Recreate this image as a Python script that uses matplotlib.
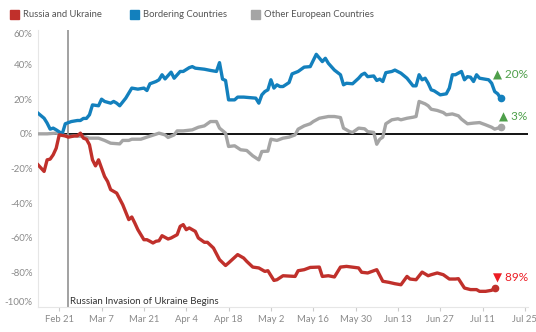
import datetime as dt
import matplotlib.pyplot as plt

# day offsets from Feb 14 2022, values in % change
start = dt.date(2022, 2, 14)
invasion_day = 10  # Feb 24

blue_days = [0, 2, 3, 4, 5, 6, 8, 9, 11, 13, 14, 15, 16, 17, 18, 20, 21, 22, 24, 25, 26, 27, 29, 31, 33,
             35, 36, 37, 39, 40, 41, 42, 44, 45, 47, 48, 50, 51, 52, 55, 57, 59, 60, 61, 62, 63, 65, 66,
             68, 72, 73, 74, 75, 76, 77, 78, 79, 80, 81, 83, 84, 86, 88, 90, 92, 94, 95, 96, 98, 100,
             101, 102, 104, 106, 107, 108, 109, 111, 112, 113, 114, 115, 117, 118, 120, 122, 124, 125,
             126, 127, 128, 129, 130, 131, 133, 135, 136, 137, 138, 140, 141, 142, 143, 144, 145, 146,
             149, 150, 151, 152, 153]
blue_vals = [11.9, 9.0, 6.2, 2.7, 3.3, 2.3, 0.0, 5.8, 7.1, 7.7, 7.7, 8.9, 8.9, 11.0, 16.7, 16.2, 20.0,
             18.7, 17.7, 18.7, 17.7, 16.2, 20.6, 26.4, 25.8, 26.4, 25.0, 28.9, 30.2, 31.2, 34.1, 31.7,
             35.6, 32.1, 36.0, 36.0, 38.2, 38.8, 37.9, 37.3, 36.6, 36.0, 41.1, 31.6, 30.8, 19.6, 19.6,
             21.2, 21.2, 20.6, 17.7, 22.5, 24.4, 25.4, 31.2, 26.4, 28.3, 27.3, 27.3, 29.6, 34.6, 36.0,
             38.5, 38.8, 45.9, 41.7, 43.6, 40.7, 36.8, 34.1, 28.3, 29.2, 28.9, 32.1, 34.1, 35.0, 33.0,
             33.4, 30.8, 31.6, 30.2, 35.3, 36.0, 36.8, 35.0, 32.1, 27.7, 27.7, 34.1, 31.2, 32.1, 29.2,
             25.4, 24.8, 22.5, 23.1, 26.4, 34.1, 34.1, 36.0, 31.2, 33.0, 32.7, 30.2, 34.1, 32.1, 31.2,
             29.2, 24.4, 23.1, 20.4]

gray_days = [0, 3, 6, 8, 10, 12, 15, 17, 20, 22, 24, 27, 28, 30, 31, 34, 36, 39, 40, 42, 43, 45, 46,
             48, 51, 53, 55, 57, 59, 60, 62, 63, 65, 67, 69, 71, 73, 74, 76, 77, 79, 81, 83, 85, 86,
             88, 90, 91, 93, 96, 98, 100, 101, 103, 104, 106, 108, 109, 111, 112, 113, 114, 115, 117,
             119, 120, 122, 124, 125, 126, 128, 129, 130, 132, 134, 135, 137, 139, 140, 142, 144, 146,
             148, 150, 151, 152, 153]
gray_vals = [0.0, 0.0, 0.4, -0.6, -1.5, -1.2, -1.5, -2.5, -2.5, -3.8, -5.4, -5.8, -3.8, -3.8, -3.1,
             -3.1, -1.9, -0.2, 0.4, -0.6, -2.1, -0.6, 1.7, 1.7, 2.3, 3.8, 4.6, 7.1, 7.1, 3.3, 0.4,
             -7.3, -6.9, -9.2, -9.6, -12.7, -15.0, -10.2, -10.0, -3.1, -3.8, -2.5, -1.9, -0.6, 2.7,
             4.6, 5.8, 7.1, 9.0, 10.0, 10.0, 9.4, 3.3, 1.3, 0.8, 3.3, 2.9, 1.3, 0.8, -6.0, -3.1, -1.9,
             5.8, 8.1, 8.7, 8.1, 9.0, 9.6, 10.0, 18.7, 17.3, 16.2, 14.2, 13.5, 12.3, 11.0, 11.5, 10.4,
             8.5, 5.8, 6.2, 6.5, 5.2, 3.8, 2.7, 3.3, 3.8]

red_days = [0, 2, 3, 4, 5, 6, 7, 9, 10, 12, 13, 14, 15, 16, 17, 18, 19, 20, 22, 23, 24, 26, 28, 30,
            31, 32, 33, 35, 36, 37, 38, 39, 40, 41, 43, 44, 46, 47, 48, 49, 50, 52, 53, 55, 56, 58,
            60, 62, 63, 66, 68, 69, 71, 73, 75, 76, 78, 79, 81, 85, 86, 88, 90, 93, 94, 96, 98, 100,
            102, 106, 107, 109, 112, 114, 116, 118, 120, 122, 123, 125, 127, 129, 130, 132, 134, 136,
            138, 139, 141, 143, 145, 146, 148, 150, 151]
red_vals = [-17.9, -21.7, -15.0, -14.6, -12.1, -8.3, -0.6, -1.2, -1.9, -1.2, -1.2, 0.4, -2.5, -3.1,
            -6.3, -15.0, -18.5, -15.0, -24.6, -27.5, -32.2, -34.2, -40.9, -49.5, -48.0, -51.5, -55.3,
            -61.1, -61.1, -62.0, -63.0, -62.0, -61.7, -58.8, -60.7, -60.1, -58.2, -53.4, -52.4, -55.3,
            -54.3, -56.3, -60.1, -62.6, -62.6, -65.9, -72.6, -76.0, -74.5, -69.7, -71.7, -73.6, -76.9,
            -77.4, -79.4, -79.0, -84.6, -84.2, -81.9, -82.3, -79.0, -78.4, -77.1, -76.9, -82.3, -81.9,
            -82.6, -76.9, -76.5, -77.4, -79.9, -80.3, -78.4, -85.1, -85.7, -86.5, -87.1, -82.3, -83.8,
            -84.2, -79.8, -81.9, -81.3, -80.3, -81.3, -83.8, -83.8, -83.6, -89.0, -89.9, -89.9, -90.9,
            -90.9, -90.3, -89.0]

series_names = ['Russia and Ukraine', 'Bordering Countries', 'Other European Countries']
series_colors = ['#c0302b', '#1380bd', '#a5a5a5']
end_labels = ['\u25bc 89%', '\u25b2 20%', '\u25b2 3%']
end_colors = ['#ec1c24', '#4e9f4a', '#4e9f4a']

y_ticks = [60, 40, 20, 0, -20, -40, -60, -80, -100]
x_ticks = list(range(7, 162, 14))  # Feb 21 .. Jul 25

plt.rcParams['font.family'] = ['Lato', 'DejaVu Sans']

fig = plt.figure(figsize=(5.36, 3.32), dpi=100)
ax = fig.add_axes([0.071, 0.075, 0.914, 0.835])

series = [(red_days, red_vals), (blue_days, blue_vals), (gray_days, gray_vals)]
# draw gray first so colored lines sit on top
for i in [2, 1, 0]:
    d, v = series[i]
    ax.plot(d, v, color=series_colors[i], lw=2.4, solid_joinstyle='round', zorder=3)
    ax.plot(d[-1], v[-1], 'o', color=series_colors[i], ms=4.5, zorder=4)

ax.axhline(0, color='black', lw=1.3, zorder=2)
ax.axvline(invasion_day, color='#9a9a9a', lw=1.3, zorder=2)
ax.text(invasion_day + 0.7, -99.6, 'Russian Invasion of Ukraine Begins', fontsize=7,
        color='#333333', ha='left', va='bottom')

# end labels
ax.text(150.5, -82.5, end_labels[0], color=end_colors[0], fontsize=8.5, va='center', ha='left')
ax.text(150.5, 34.5, end_labels[1], color=end_colors[1], fontsize=8.5, va='center', ha='left')
ax.text(152.5, 10, end_labels[2], color=end_colors[2], fontsize=8.5, va='center', ha='left')

ax.set_xlim(0, 162)
ax.set_ylim(-100, 60)
ax.set_yticks(y_ticks)
ax.set_yticklabels([f'{t}%' for t in y_ticks])
ax.set_xticks(x_ticks)
ax.set_xticklabels([(start + dt.timedelta(days=t)).strftime('%b %-d') for t in x_ticks])
ax.tick_params(axis='y', length=0, labelsize=7, labelcolor='#8a8a8a', pad=4)
ax.tick_params(axis='x', length=3, color='#cccccc', labelsize=6.8, labelcolor='#8a8a8a', pad=3)

# keep the edge labels inside the pane, like the original
ylabels = ax.get_yticklabels()
ylabels[0].set_va('top')
ylabels[-1].set_va('bottom')

for s in ['top', 'right']:
    ax.spines[s].set_visible(False)
for s in ['left', 'bottom']:
    ax.spines[s].set_color('#e6e6e6')
    ax.spines[s].set_linewidth(0.8)

# legend along the top
leg_x = [0.019, 0.243, 0.468]
for i, name in enumerate(series_names):
    fig.patches.append(plt.Rectangle((leg_x[i], 0.943), 0.017, 0.026, transform=fig.transFigure,
                                     color=series_colors[i], figure=fig))
    fig.text(leg_x[i] + 0.024, 0.956, name, fontsize=6.8, color='#555555', va='center')

fig.savefig('out.png', dpi=100)
